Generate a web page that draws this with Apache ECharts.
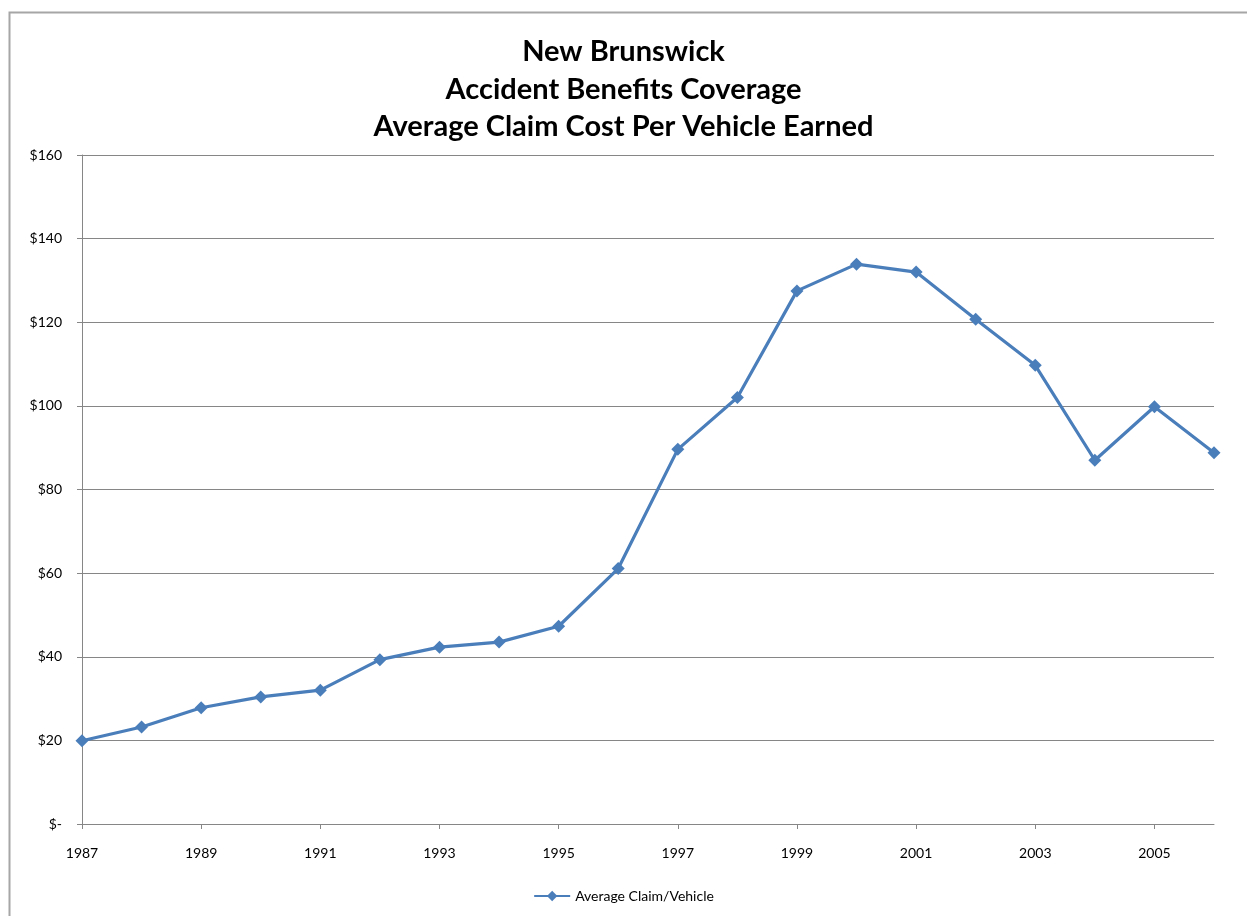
<!DOCTYPE html>
<html>
<head>
<meta charset="utf-8">
<script src="https://cdn.jsdelivr.net/npm/echarts@6/dist/echarts.min.js"></script>
<style>
html,body{margin:0;padding:0;background:#fff;}
#chart{width:1247px;height:916px;}
</style>
</head>
<body>
<div id="chart"></div>
<script>
const years = ['1987','1988','1989','1990','1991','1992','1993','1994','1995','1996','1997','1998','1999','2000','2001','2002','2003','2004','2005','2006'];
const avgClaim = [19.9,23.2,27.8,30.4,32.0,39.3,42.3,43.5,47.3,61.1,89.6,102.0,127.5,133.9,132.0,120.7,109.7,87.0,99.8,88.8];
const titleLines = ['New Brunswick','Accident Benefits Coverage','Average Claim Cost Per Vehicle Earned'];
const seriesName = 'Average Claim/Vehicle';

const chart = echarts.init(document.getElementById('chart'), null, {renderer:'canvas'});
const font = 'Lato, "Open Sans", sans-serif';
chart.setOption({
  animation:false,
  backgroundColor:'#fff',
  graphic:[{
    type:'rect', left:7, top:10,
    shape:{width:1260, height:920},
    style:{fill:'none', stroke:'#a6a6a6', lineWidth:2}
  }],
  title:{
    text:titleLines.join('\n'),
    left:'center', top:28,
    textStyle:{fontFamily:font, fontWeight:'bold', fontSize:29, lineHeight:37.5, color:'#000'}
  },
  legend:{
    bottom:8, left:'center',
    itemWidth:36, itemHeight:13, itemGap:6,
    textStyle:{fontFamily:font, fontSize:14, color:'#000'},
    data:[seriesName]
  },
  grid:{left:82, right:33, top:155, bottom:92, containLabel:false},
  xAxis:{
    type:'category', data:years, boundaryGap:false,
    axisLine:{lineStyle:{color:'#868686', width:1}},
    axisTick:{show:true, interval:1, length:5, lineStyle:{color:'#868686'}},
    axisLabel:{interval:1, margin:22, fontFamily:font, fontSize:14, color:'#000'},
    splitLine:{show:false}
  },
  yAxis:{
    type:'value', min:0, max:160, interval:20,
    axisLine:{show:true, lineStyle:{color:'#868686'}},
    axisTick:{show:true, length:5, lineStyle:{color:'#868686'}},
    axisLabel:{margin:20, fontFamily:font, fontSize:14, color:'#000',
      formatter:v => v===0 ? '$-' : '$'+v},
    splitLine:{lineStyle:{color:'#868686', width:1}}
  },
  series:[{
    name:seriesName, type:'line', data:avgClaim,
    symbol:'diamond', symbolSize:13,
    lineStyle:{color:'#4a7ebb', width:3.2},
    itemStyle:{color:'#4a7ebb'}
  }]
});
</script>
</body>
</html>
